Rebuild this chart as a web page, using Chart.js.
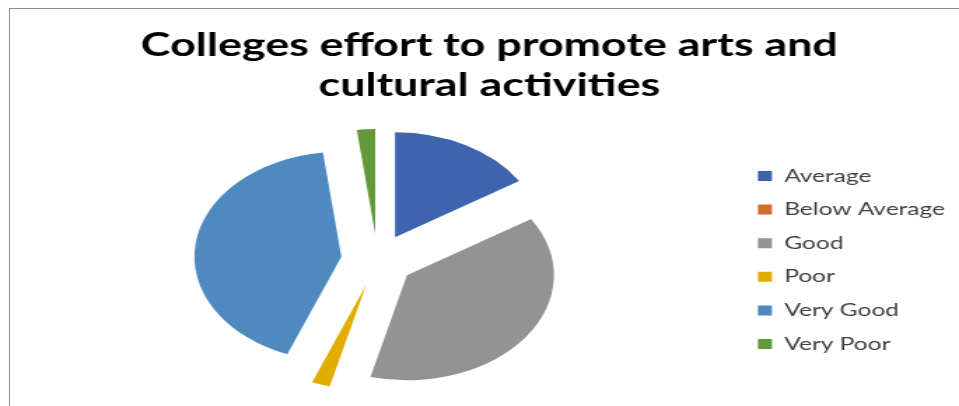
<!DOCTYPE html>
<html>
<head>
<meta charset="utf-8">
<script src="https://cdn.jsdelivr.net/npm/chart.js@4"></script>
<style>
  html, body { margin: 0; padding: 0; background: #ffffff; overflow: hidden; width: 959px; height: 406px; }
  #frame { position: absolute; left: 9px; top: 8px; width: 1000px; height: 500px; border: 1.5px solid #8c8c8c; }
  #wrap { position: absolute; left: 0; top: 0; width: 685px; height: 406px; transform: scaleX(1.4); transform-origin: 0 0; }
</style>
</head>
<body>
<div id="frame"></div>
<div id="wrap"><canvas id="c" width="685" height="406"></canvas></div>
<script>
const titleLines = ['Colleges effort to promote arts and', 'cultural activities'];
const categories = ['Average', 'Below Average', 'Good', 'Poor', 'Very Good', 'Very Poor'];
const values = [16, 0, 38, 2, 42, 2];
const colors = ['#3E64AE', '#D26E2C', '#939393', '#E2AC00', '#4E8ABF', '#61993B'];
const explode = 26;

const explodePlugin = {
  id: 'explode',
  afterDatasetsUpdate(chart) {
    chart.getDatasetMeta(0).data.forEach(arc => {
      const mid = (arc.startAngle + arc.endAngle) / 2;
      arc.x += Math.cos(mid) * explode;
      arc.y += Math.sin(mid) * explode;
    });
  }
};

new Chart(document.getElementById('c'), {
  type: 'pie',
  data: {
    labels: categories,
    datasets: [{
      data: values,
      backgroundColor: colors,
      borderWidth: 0,
      radius: 105
    }]
  },
  options: {
    responsive: false,
    devicePixelRatio: 1,
    animation: false,
    layout: { padding: { left: 14, right: 0, top: 0, bottom: 0 } },
    plugins: {
      tooltip: { enabled: false },
      title: {
        display: true,
        text: titleLines,
        color: '#000000',
        font: { family: 'Lato', weight: 'bold', size: 32, lineHeight: 1.25 },
        padding: { top: 26, bottom: 8 }
      },
      legend: {
        position: 'right',
        fullSize: false,
        labels: {
          boxWidth: 10,
          boxHeight: 10,
          padding: 16.1,
          color: '#404040',
          font: { family: 'Lato', size: 17.5 }
        }
      }
    }
  },
  plugins: [explodePlugin]
});
</script>
</body>
</html>
